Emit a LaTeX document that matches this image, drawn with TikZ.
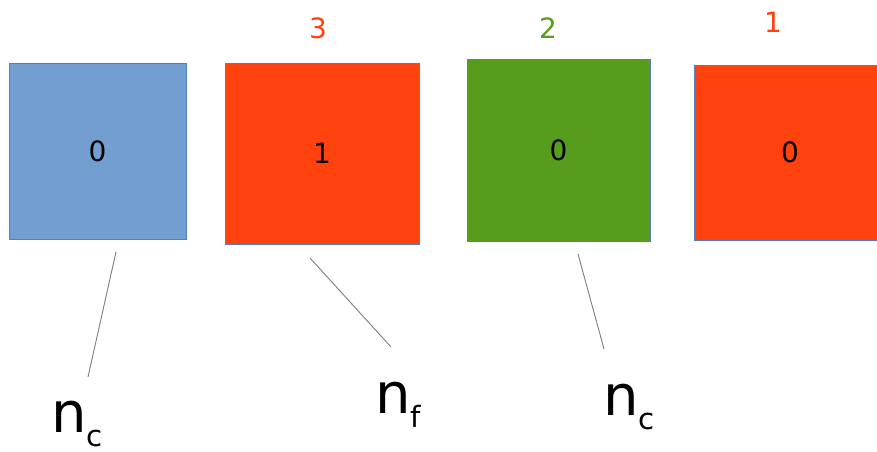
\documentclass[tikz,border=0pt]{standalone}
\usepackage{fontspec}
\setmainfont{DejaVu Sans}
\definecolor{cblue}{HTML}{729FCF}
\definecolor{cred}{HTML}{FF420E}
\definecolor{cgreen}{HTML}{579D1C}
\definecolor{cedge}{HTML}{4F7FBF}
\newcommand{\nsub}[1]{{\fontsize{42}{42}\selectfont n}\raisebox{-11pt}{\fontsize{22}{22}\selectfont #1}}
\tikzset{
  cell/.style={draw=cedge, line width=0.6pt, inner sep=0pt, font=\fontsize{21}{24}\selectfont},
  count/.style={inner sep=0pt, font=\fontsize{21}{24}\selectfont},
  lead/.style={gray, line width=0.7pt},
  nlabel/.style={inner sep=0pt, anchor=base west}
}
\begin{document}
\begin{tikzpicture}[x=0.75pt,y=-0.75pt]
    \useasboundingbox (0,0) rectangle (877,452);
    \clip (0,0) rectangle (877,452);
    % Celdas
    \node[cell, fill=cblue, minimum width=132.75pt, minimum height=132pt] (c1) at (97.5,151) {0};
    \node[cell, fill=cred, minimum width=145.5pt, minimum height=135.75pt] (c2) at (322,153.5) {1};
    \node[cell, fill=cgreen, minimum width=137.25pt, minimum height=136.5pt] (c3) at (558.5,150) {0};
    \node[cell, fill=cred, minimum width=144pt, minimum height=131.25pt] (c4) at (790,152.5) {0};
    % Contadores sobre las celdas
    \foreach \px/\py/\col/\v/\nm in {318/28/cred/3/k2, 548/28/cgreen/2/k3, 773/22/cred/1/k4}
        \node[count, text=\col] (\nm) at (\px,\py) {\v};
    % Etiquetas
    \node[nlabel] (l1) at (51,432) {\nsub{c}};
    \node[nlabel] (l2) at (375,413) {\nsub{f}};
    \node[nlabel] (l3) at (603,415) {\nsub{c}};
    % Lineas guia
    \coordinate (t1) at (116,252);  \coordinate (b1) at (88,377);
    \coordinate (t2) at (310,258);  \coordinate (b2) at (391,347);
    \coordinate (t3) at (578,254);  \coordinate (b3) at (604,349);
    \foreach \i in {1,2,3}
        \draw[lead] (t\i) -- (b\i);
\end{tikzpicture}
\end{document}
